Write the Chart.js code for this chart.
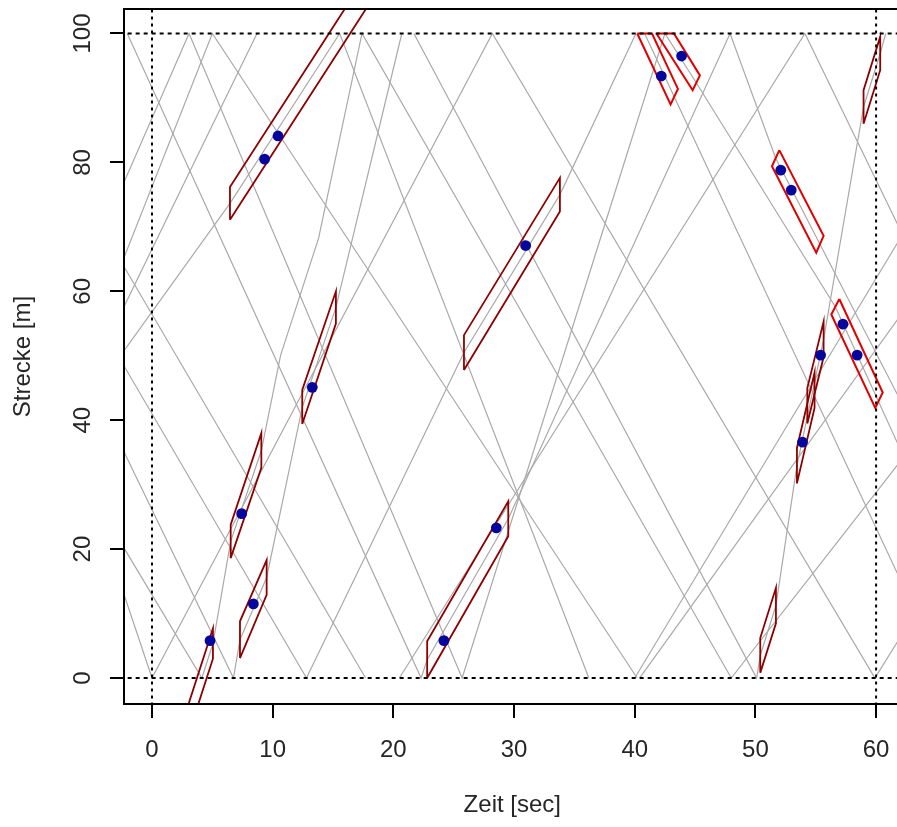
<!DOCTYPE html>
<html>
<head>
<meta charset="utf-8">
<script src="https://cdn.jsdelivr.net/npm/chart.js@4"></script>
<style>
  html, body { margin: 0; padding: 0; background: #fff; overflow: hidden; }
  canvas { display: block; }
</style>
</head>
<body>
<canvas id="c" width="906" height="827" style="width:906px;height:827px"></canvas>
<script>
// Axis ticks
const xTicks = [0, 10, 20, 30, 40, 50, 60];
const yTicks = [0, 20, 40, 60, 80, 100];

// Reference lines: start/end of the observation window and of the section
const refTimes = [0, 60];
const refDistances = [0, 100];

// Observed positions (blue points)
const dotTimes     = [4.81, 7.43, 8.4, 13.28, 9.33, 10.44, 24.19, 28.53, 30.96, 42.2, 43.88, 52.1, 52.97, 57.25, 58.43, 55.4, 53.9];
const dotDistances = [5.8, 25.5, 11.5, 45.1, 80.5, 84.1, 5.8, 23.3, 67.1, 93.4, 96.5, 78.8, 75.7, 54.9, 50.1, 50.1, 36.6];

// Shuttle trajectories [time, distance], split at the terminal stops
const grayPaths = [
  [[-3, 37.7], [6.75, 0], [7.29, 5.95], [9.5, 15.6], [12.45, 42], [15.24, 57.5], [20.7, 100]],
  [[21.7, 100], [50.1, 0], [50.4, 3.5], [51.7, 11.25], [53.44, 32.95], [54.3, 40.5], [55.65, 52.55], [58.96, 88.6], [60.34, 96.9], [60.8, 100]],
  [[-3, 22.3], [4.13, 0], [5.05, 5.35], [6.52, 21.2], [9.06, 35.3], [10.66, 50.1], [13.8, 68.2], [17.4, 100], [48, 0], [63, 36]],
  [[-3, 49], [6.46, 73.65], [15.55, 100], [36.2, 0]],
  [[40.0, 0], [63, 71.3]],
  [[-2.05, 100], [22.3, 0], [22.8, 2.85], [29.52, 24.7], [47.9, 100], [51.68, 80.65], [55.35, 67.3], [63, 39.5]],
  [[-3, 50.6], [12.8, 0], [25.85, 50.5], [33.8, 75], [40.1, 100]],
  [[40.82, 100], [43.27, 90.2], [63, 11.3]],
  [[-3, 66], [17.7, 0]],
  [[20.5, 0], [54.1, 100], [63, 65.7]],
  [[-3, 16.8], [0, 0], [28.2, 100], [59.9, 0], [63, 9.3]],
  [[-3, 74], [3.07, 100], [25.7, 0], [42.5, 100], [45.1, 92.35], [56.62, 57.6], [60.2, 42.9], [63, 31.4]],
  [[-3, 62], [5.0, 100], [40.2, 0]],
  [[40.4, 0], [63, 58.8]],
  [[-3, 55], [8.7, 100]]
];

// Upstream-moving vehicles: [tStart, sLow, sHigh, tEnd, sLow, sHigh]
const darkBoxes = [
  [6.46, 71.1, 76.2, 19.0, 107.5, 112.6],
  [1.5, -17.6, -12.9, 5.05, 3.0, 7.7],
  [6.52, 18.6, 23.8, 9.06, 32.6, 38.0],
  [7.29, 3.1, 8.8, 9.5, 12.9, 18.3],
  [12.45, 39.4, 44.7, 15.24, 55.0, 60.0],
  [22.8, 0, 5.7, 29.52, 22.0, 27.4],
  [25.85, 47.8, 53.2, 33.8, 72.4, 77.6],
  [50.4, 0.8, 6.2, 51.7, 8.5, 14.0],
  [53.44, 30.2, 35.7, 54.9, 41.9, 47.4],
  [54.3, 39.5, 45.0, 55.65, 49.8, 55.3],
  [58.96, 86.0, 91.2, 60.34, 94.3, 99.5]
];

// Downstream-moving vehicles: corner points
const redBoxes = [
  [[40.21, 100], [42.97, 89.0], [43.58, 91.4], [41.43, 100]],
  [[41.8, 100], [44.8, 91.2], [45.4, 93.5], [43.25, 100]],
  [[51.98, 81.9], [51.37, 79.4], [55.04, 66.0], [55.65, 68.6]],
  [[56.95, 58.8], [56.29, 56.4], [59.93, 41.9], [60.55, 44.3]]
];

const X_MIN = -2.32, X_MAX = 62.03, Y_MIN = -4.03, Y_MAX = 103.8;
const FONT = { family: "'Liberation Sans', Arial, sans-serif", size: 24 };
const TEXT = '#262626';

const pts = arr => arr.map(([x, y]) => ({ x, y }));
const datasets = [];

datasets.push({
  label: 'Beobachtung',
  data: dotTimes.map((t, i) => ({ x: t, y: dotDistances[i] })),
  showLine: false, pointRadius: 5.4, pointHoverRadius: 5.4,
  pointBackgroundColor: '#06069c', pointBorderColor: '#06069c', pointBorderWidth: 0,
  order: 0
});

refDistances.forEach(s => datasets.push({
  data: [{ x: X_MIN - 5, y: s }, { x: X_MAX + 5, y: s }],
  showLine: true, pointRadius: 0, borderColor: '#000', borderWidth: 2,
  borderDash: [4, 4], order: 1
}));
refTimes.forEach(t => datasets.push({
  data: [{ x: t, y: Y_MIN - 10 }, { x: t, y: Y_MAX + 10 }],
  showLine: true, pointRadius: 0, borderColor: '#000', borderWidth: 2,
  borderDash: [3, 4], order: 1
}));

redBoxes.forEach(b => datasets.push({
  data: pts([...b, b[0]]),
  showLine: true, pointRadius: 0, borderColor: '#e00000', borderWidth: 2, order: 2
}));

darkBoxes.forEach(([t0, a0, b0, t1, a1, b1]) => datasets.push({
  data: pts([[t0, a0], [t0, b0], [t1, b1], [t1, a1], [t0, a0]]),
  showLine: true, pointRadius: 0, borderColor: '#8e0000', borderWidth: 1.8, order: 2
}));

grayPaths.forEach(p => datasets.push({
  data: pts(p),
  showLine: true, pointRadius: 0, borderColor: '#a9a9a9', borderWidth: 1.2, order: 3
}));

// Frame on the left, top and bottom of the plot region
const framePlugin = {
  id: 'frame',
  afterDatasetsDraw(chart) {
    const { ctx, chartArea: a } = chart;
    ctx.save();
    ctx.strokeStyle = '#000';
    ctx.lineWidth = 2;
    ctx.beginPath();
    ctx.moveTo(a.right + 8, a.top);
    ctx.lineTo(a.left, a.top);
    ctx.lineTo(a.left, a.bottom);
    ctx.lineTo(a.right + 8, a.bottom);
    ctx.stroke();
    ctx.restore();
  }
};

new Chart(document.getElementById('c'), {
  type: 'scatter',
  data: { datasets },
  options: {
    responsive: false,
    animation: false,
    events: [],
    layout: { padding: { top: 9, right: 1, left: 0, bottom: 0 } },
    plugins: { legend: { display: false }, tooltip: { enabled: false } },
    elements: { line: { tension: 0, borderCapStyle: 'butt' } },
    scales: {
      x: {
        type: 'linear', min: X_MIN, max: X_MAX,
        afterBuildTicks: s => { s.ticks = xTicks.map(v => ({ value: v })); },
        afterFit: s => { s.height = 123; s.paddingLeft = 0; s.paddingRight = 0; },
        grid: { drawOnChartArea: false, drawTicks: true, tickLength: 14, color: '#000', lineWidth: 2 },
        border: { display: false },
        ticks: { font: FONT, color: TEXT, padding: 18, maxRotation: 0, autoSkip: false },
        title: { display: true, text: 'Zeit [sec]', font: FONT, color: TEXT, padding: { top: 0, bottom: 7 } }
      },
      y: {
        type: 'linear', min: Y_MIN, max: Y_MAX,
        afterBuildTicks: s => { s.ticks = yTicks.map(v => ({ value: v })); },
        afterFit: s => { s.width = 124; s.paddingTop = 0; s.paddingBottom = 0; },
        grid: { drawOnChartArea: false, drawTicks: true, tickLength: 14, color: '#000', lineWidth: 2 },
        border: { display: false },
        ticks: { font: FONT, color: TEXT, padding: 7, minRotation: 90, maxRotation: 90, crossAlign: 'center', autoSkip: false },
        title: { display: true, text: 'Strecke [m]', font: FONT, color: TEXT, padding: { top: 9, bottom: 0 } }
      }
    }
  },
  plugins: [framePlugin]
});
</script>
</body>
</html>
